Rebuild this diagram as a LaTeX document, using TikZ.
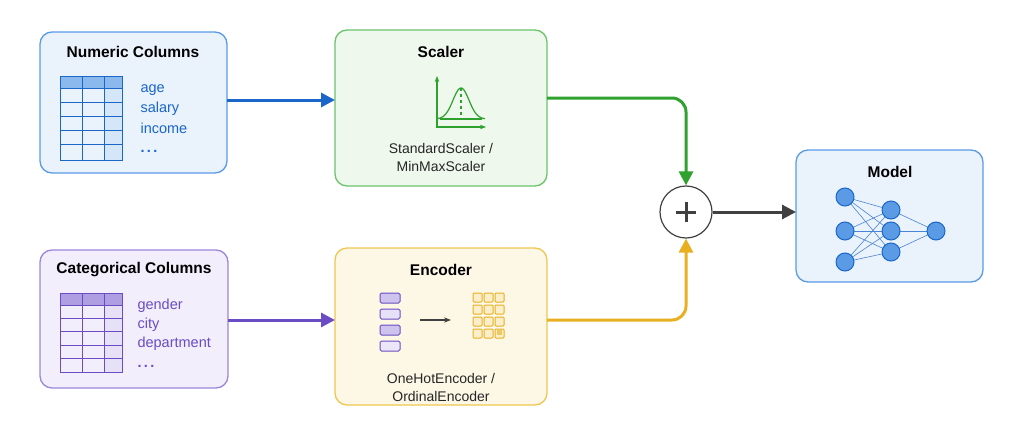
\documentclass[tikz,border=0pt]{standalone}
\usepackage{fontspec}
\setmainfont{Liberation Sans}
\usetikzlibrary{arrows.meta}
\definecolor{bl}{HTML}{1A66C9}\definecolor{blf}{HTML}{EAF2FC}\definecolor{blb}{HTML}{5B9BE6}
\definecolor{gr}{HTML}{2EA12E}\definecolor{grf}{HTML}{EEF8EC}\definecolor{grb}{HTML}{6CC36C}
\definecolor{pu}{HTML}{6A4CC4}\definecolor{puf}{HTML}{F2EEFB}\definecolor{pub}{HTML}{9B86DB}
\definecolor{ye}{HTML}{E8B020}\definecolor{yef}{HTML}{FDF8E6}\definecolor{yeb}{HTML}{F0C650}
\definecolor{dk}{HTML}{404040}
\begin{document}
\begin{tikzpicture}[x=1pt,y=-1pt,
 box/.style={rounded corners=12pt,line width=1.3pt},
 ttl/.style={font=\bfseries\fontsize{15.5}{18}\selectfont},
 lbl/.style={font=\fontsize{14.5}{17}\selectfont,anchor=west},
 sub/.style={font=\fontsize{14}{17}\selectfont,text=black!85},
 con/.style={line width=3pt,-{Triangle[length=14pt,width=14pt]}},
 nn/.style={circle,draw=bl,fill=blb,line width=1pt,minimum size=18pt,inner sep=0}]
\useasboundingbox (0,0) rectangle (1024,439);
\draw[box,draw=blb,fill=blf] (40,32) rectangle (227,173);
\node[ttl] (numt) at (133,52) {Numeric Columns};
\draw[box,draw=grb,fill=grf] (335,30) rectangle (547,186);
\node[ttl] (sct) at (441,52) {Scaler};
\draw[box,draw=pub,fill=puf] (40,250) rectangle (228,388);
\node[ttl] (catt) at (134,270) {Categorical Columns};
\draw[box,draw=yeb,fill=yef] (335,248) rectangle (547,405);
\node[ttl] (enct) at (441,270) {Encoder};
\draw[box,draw=blb,fill=blf] (796,150) rectangle (983,282);
\node[ttl] (modt) at (890,172) {Model};
\coordinate (numR) at (227,100); \coordinate (scL) at (335,100);
\coordinate (scR) at (547,98); \coordinate (catR) at (228,320);
\coordinate (encL) at (335,320); \coordinate (encR) at (547,320);
\coordinate (modL) at (796,212);
% numeric table
\fill[blb!70] (60,76) rectangle (122,88);
\fill[blb!25] (104,88) rectangle (122,160);
\draw[bl,line width=1pt] (60,76) rectangle (122,160);
\foreach \y in {88,102,116,130,144} \draw[bl,line width=0.8pt] (60,\y)--(122,\y);
\foreach \x in {82,104} \draw[bl,line width=0.8pt] (\x,76)--(\x,160);
\node[lbl,text=bl] (a1) at (137,90) {age};
\node[lbl,text=bl] (a2) at (137,109) {salary};
\node[lbl,text=bl] (a3) at (137,128) {income};
\node[lbl,text=bl] (a4) at (137,151) {\textbf{.\,.\,.}};
% cat table
\fill[pub!80] (60,293) rectangle (122,305);
\fill[pub!25] (104,305) rectangle (122,372);
\draw[pu,line width=1pt] (60,293) rectangle (122,372);
\foreach \y in {305,318,331,345,358} \draw[pu,line width=0.8pt] (60,\y)--(122,\y);
\foreach \x in {82,104} \draw[pu,line width=0.8pt] (\x,293)--(\x,372);
\node[lbl,text=pu] (b1) at (134,306) {gender};
\node[lbl,text=pu] (b2) at (134,325) {city};
\node[lbl,text=pu] (b3) at (134,344) {department};
\node[lbl,text=pu] (b4) at (134,366) {\textbf{.\,.\,.}};
% scaler plot
\draw[gr,line width=1.3pt,-{Stealth[length=6pt]}] (437,127)--(437,76);
\draw[gr,line width=1.3pt,-{Stealth[length=6pt]}] (436,127)--(486,127);
\draw[gr,line width=1.2pt,domain=-1:1,samples=60,smooth] plot ({461+24*\x},{119-31*exp(-4.5*\x*\x)});
\draw[gr,line width=1.2pt] (440,119)--(482,119);
\draw[gr,line width=1.2pt,dashed] (461,88)--(461,119);
\node[sub] (s1) at (441,148) {StandardScaler /};
\node[sub] (s2) at (441,166) {MinMaxScaler};
% encoder
\foreach \y/\c in {293/50,309/25,325/50,341/20}
  \draw[pu,fill=pub!\c!white,line width=1pt,rounded corners=1.5pt] (380,\y) rectangle (400,\y+10);
\draw[dk,line width=1.2pt,-{Stealth[length=7pt]}] (420,320)--(451,320);
\foreach \i in {0,1,2} \foreach \j in {0,1,2,3}
  \draw[ye,fill=yeb!30,line width=1pt,rounded corners=1pt] (473+11*\i,293+12*\j) rectangle (482+11*\i,302+12*\j);
\fill[ye!70] (497,330) rectangle (502,335);
\node[sub] (e1) at (441,378) {OneHotEncoder /};
\node[sub] (e2) at (441,396) {OrdinalEncoder};
% plus
\node[circle,draw=dk,fill=white,line width=1.2pt,minimum size=52pt,inner sep=0] (plus) at (686,212) {};
\draw[dk,line width=3pt] (676,212)--(696,212) (686,202)--(686,222);
% connectors
\draw[con,bl] (numR)--(scL);
\draw[con,pu] (catR)--(encL);
\draw[con,gr] (scR)--(672,98) to[out=0,in=90] (686,112)--(plus.north);
\draw[con,ye] (encR)--(672,320) to[out=0,in=-90] (686,306)--(plus.south);
\draw[con,dk] (plus.east)--(modL);
% nn
\coordinate (ci1) at (845,197); \coordinate (ci2) at (845,231); \coordinate (ci3) at (845,262);
\coordinate (ch1) at (891,210); \coordinate (ch2) at (891,231); \coordinate (ch3) at (891,252);
\coordinate (co) at (936,231);
\foreach \a in {ci1,ci2,ci3} \foreach \b in {ch1,ch2,ch3} \draw[bl!80,line width=0.6pt] (\a)--(\b);
\foreach \b in {ch1,ch2,ch3} \draw[bl!80,line width=0.6pt] (\b)--(co);
\node[nn] (i1) at (ci1) {}; \node[nn] (i2) at (ci2) {}; \node[nn] (i3) at (ci3) {};
\node[nn] (h1) at (ch1) {}; \node[nn] (h2) at (ch2) {}; \node[nn] (h3) at (ch3) {};
\node[nn] (o) at (co) {};
\end{tikzpicture}
\end{document}
